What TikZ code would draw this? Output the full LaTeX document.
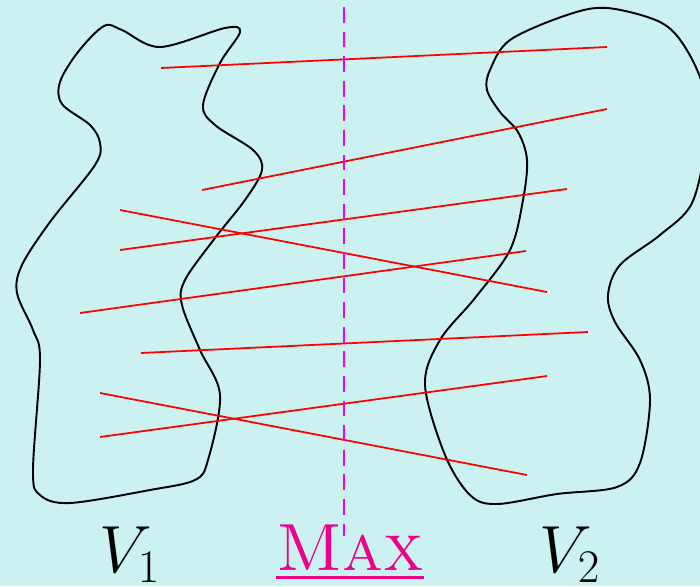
\RequirePackage{fix-cm}
\documentclass[tikz,border=0pt]{standalone}
\usepackage{xcolor}
\usepackage{tikz}
\usetikzlibrary{positioning}
\definecolor{mybg}{RGB}{203,241,240}
\definecolor{mymag}{RGB}{236,0,140}
\definecolor{mycut}{RGB}{240,0,240}
\tikzset{
  blob/.style={draw=black, line width=1.1pt, smooth cycle, tension=0.55},
  edgeline/.style={red, line width=1pt},
  cutline/.style={mycut, line width=1.1pt, dash pattern=on 9pt off 5pt},
  setlabel/.style={font=\fontsize{38}{40}\selectfont, inner sep=0pt, anchor=base}
}

\begin{document}
\begin{tikzpicture}[x=0.02cm, y=-0.02cm]
  \fill[mybg] (0,0) rectangle (700,586);
  \useasboundingbox (0,0) rectangle (700,586);

  \begin{scope}
    \clip (0,0) rectangle (700,586);
    % left part V_1
    \draw[blob] plot coordinates {(104,26) (122,30) (160,47) (225,28) (240,32) (220,63)
      (203,105) (215,125) (253,150) (262,170) (245,200) (215,238) (185,280)
      (182,305) (200,350) (220,395) (208,460) (195,480) (150,490) (70,503)
      (40,495) (33,470) (40,360) (33,330) (17,293) (22,265) (50,222) (95,165)
      (100,143) (90,125) (62,104) (60,82) (78,52)};
    % right part V_2
    \draw[blob] plot coordinates {(607,8) (660,22) (685,47) (704,90) (706,140)
      (692,203) (660,235) (620,265) (608,295) (615,322) (640,360) (650,400)
      (640,463) (617,487) (557,494) (497,504) (470,495) (445,455) (425,385)
      (440,340) (475,298) (510,250) (523,200) (527,160) (518,132) (500,112)
      (487,90) (490,70) (510,40) (567,15)};
  \end{scope}

  % crossing edges
  \foreach \xa/\ya/\xb/\yb in {161/68/607/47, 202/190/607/109, 120/250/567/189,
      120/210/547/292, 80/313/526/251, 141/353/588/332, 100/393/527/475,
      100/437/547/376}
    \draw[edgeline] (\xa,\ya) -- (\xb,\yb);

  \coordinate (cuttop) at (344,7);
  \coordinate (cutbot) at (344,536);
  \draw[cutline] (cuttop) -- (cutbot);

  \node[setlabel] (vone) at (130,572) {$V_1$};
  \node[setlabel] (vtwo) at (570,572) {$V_2$};
  \node[setlabel, text=mymag] (maxlbl) at (350,570) {\textsc{Max}};
  \draw[mymag, line width=1.7pt] ([yshift=-4.5pt]maxlbl.base west) -- ([yshift=-4.5pt]maxlbl.base east);
\end{tikzpicture}
\end{document}
